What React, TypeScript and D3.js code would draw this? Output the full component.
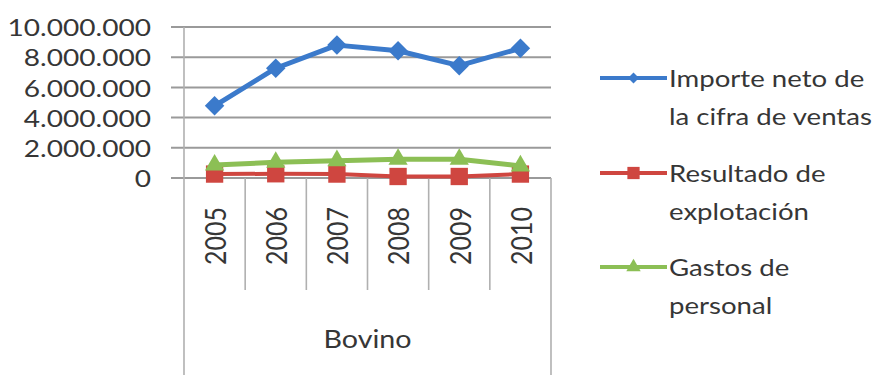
import React from "react";
import * as d3 from "d3";

// Bovino: annual figures (EUR)
const years = ["2005", "2006", "2007", "2008", "2009", "2010"];
const importeNeto = [4780000, 7270000, 8800000, 8430000, 7440000, 8590000];
const resultadoExplotacion = [260000, 280000, 260000, 100000, 100000, 260000];
const gastosPersonal = [860000, 1040000, 1150000, 1240000, 1240000, 800000];
const yTicks = [0, 2000000, 4000000, 6000000, 8000000, 10000000];
const seriesNames = [
  ["Importe neto de", "la cifra de ventas"],
  ["Resultado de", "explotación"],
  ["Gastos de", "personal"],
];
const categoryTitle = "Bovino";

const W = 885;
const H = 375;
const FONT = "Lato, 'Open Sans', sans-serif";
const TEXT = "#363636";
const SX = 1.17; // horizontal widening of glyphs
const COLORS = ["#3b7acb", "#cf4640", "#8cbf55"];

const fmt = (v: number) => d3.format(",")(v).replace(/,/g, ".");

function WideText(props: {
  x: number;
  y: number;
  size: number;
  anchor?: string;
  rotate?: number;
  sx?: number;
  children: React.ReactNode;
}) {
  const { x, y, size, anchor = "start", rotate = 0, sx = SX, children } = props;
  return (
    <g transform={`translate(${x},${y}) scale(${sx},1) rotate(${rotate})`}>
      <text
        x={0}
        y={0}
        fontFamily={FONT}
        fontSize={size}
        fill={TEXT}
        textAnchor={anchor}
        dominantBaseline="central"
      >
        {children}
      </text>
    </g>
  );
}

export default function App() {
  const x = d3.scaleBand<string>().domain(years).range([184, 551]);
  const y = d3.scaleLinear().domain([0, 10000000]).range([178, 27]);
  const cx = (d: string) => (x(d) as number) + x.bandwidth() / 2;

  const line = d3
    .line<[string, number]>()
    .x((d) => cx(d[0]))
    .y((d) => y(d[1]));

  const series = [importeNeto, resultadoExplotacion, gastosPersonal];
  const widths = [5, 4, 5];

  const diamond = d3.symbol().type(d3.symbolSquare).size(190)() as string;
  const square = d3.symbol().type(d3.symbolSquare).size(300)() as string;
  const triangle = d3.symbol().type(d3.symbolTriangle).size(160)() as string;
  const markerPaths = [diamond, square, triangle];
  const markerRot = [45, 0, 0];

  const legDiamond = d3.symbol().type(d3.symbolSquare).size(60)() as string;
  const legSquare = d3.symbol().type(d3.symbolSquare).size(150)() as string;
  const legTriangle = d3.symbol().type(d3.symbolTriangle).size(90)() as string;
  const legPaths = [legDiamond, legSquare, legTriangle];

  const bandEdges = years.map((d) => x(d) as number).concat([x.range()[1]]);
  const legendRows = [78, 173, 267];
  const lineGap = 38;

  return (
    <svg
      width={W}
      height={H}
      style={{ position: "absolute", left: 0, top: 0, background: "#fff" }}
    >
      <rect x={0} y={0} width={W} height={H} fill="#fff" />

      {/* horizontal gridlines with outer ticks */}
      {yTicks.map((t) => (
        <line
          key={t}
          x1={171}
          x2={551}
          y1={y(t)}
          y2={y(t)}
          stroke="#9a9a9a"
          strokeWidth={2}
        />
      ))}

      {/* y-axis line, continued through the category area */}
      <line x1={184} x2={184} y1={y(10000000)} y2={H} stroke="#b0b0b0" strokeWidth={1.6} />
      <line x1={551} x2={551} y1={y(0)} y2={H} stroke="#b0b0b0" strokeWidth={1.6} />

      {/* category separators */}
      {bandEdges.slice(1, -1).map((e, i) => (
        <line key={i} x1={e} x2={e} y1={y(0)} y2={290} stroke="#b0b0b0" strokeWidth={1.6} />
      ))}

      {/* y tick labels */}
      {yTicks.map((t) => (
        <WideText key={t} x={151} y={y(t)} size={24} anchor="end">
          {fmt(t)}
        </WideText>
      ))}

      {/* year labels */}
      {years.map((d) => (
        <WideText key={d} x={cx(d)} y={207} size={25} anchor="end" rotate={-90}>
          {d}
        </WideText>
      ))}

      <WideText x={(184 + 551) / 2} y={339} size={24.5} anchor="middle">
        {categoryTitle}
      </WideText>

      {/* series lines and markers, drawn back to front */}
      {[0, 1, 2].map((s) => (
        <g key={s}>
          <path
            d={line(years.map((yr, i) => [yr, series[s][i]]) as [string, number][]) as string}
            fill="none"
            stroke={COLORS[s]}
            strokeWidth={widths[s]}
            strokeLinejoin="round"
          />
          {years.map((yr, i) => (
            <path
              key={yr}
              d={markerPaths[s]}
              transform={`translate(${cx(yr)},${y(series[s][i])}) rotate(${markerRot[s]})`}
              fill={COLORS[s]}
            />
          ))}
        </g>
      ))}

      {/* legend */}
      {seriesNames.map((names, s) => (
        <g key={s}>
          <line
            x1={600}
            x2={667}
            y1={legendRows[s]}
            y2={legendRows[s]}
            stroke={COLORS[s]}
            strokeWidth={4}
          />
          <path
            d={legPaths[s]}
            transform={`translate(633.5,${legendRows[s]}) rotate(${markerRot[s]})`}
            fill={COLORS[s]}
          />
          {names.map((n, k) => (
            <WideText key={k} x={669} y={legendRows[s] + k * lineGap} size={23} sx={1.2}>
              {n}
            </WideText>
          ))}
        </g>
      ))}
    </svg>
  );
}
